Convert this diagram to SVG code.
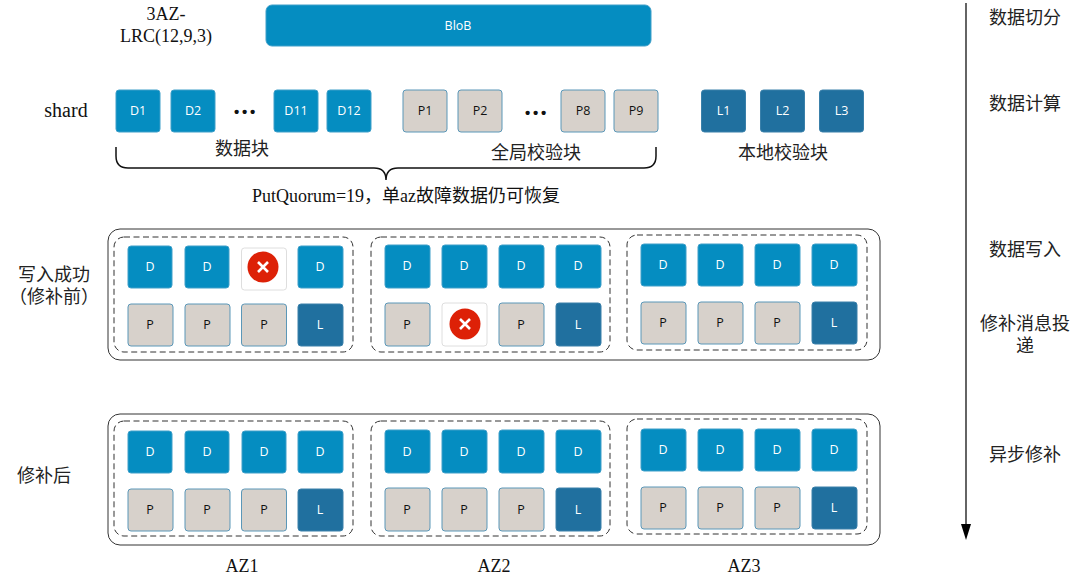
<svg xmlns="http://www.w3.org/2000/svg" xmlns:xlink="http://www.w3.org/1999/xlink" width="1080" height="585" viewBox="0 0 1080 585">
<style>
text{text-anchor:middle}
.t{font-family:"Open Sans","Noto Sans",sans-serif;font-size:12.5px}
.w{fill:#fff}.k{fill:#111}
.d{fill:#058dc1;stroke:#3f9fc9;stroke-width:1}
.p{fill:#d7d1cb;stroke:#5b97b8;stroke-width:1}
.l{fill:#20709f;stroke:#3a80aa;stroke-width:1}
.x{fill:#fff;stroke:#dedede;stroke-width:1}
.lab{font-family:"Liberation Serif","Noto Sans CJK SC",serif;font-size:18px;fill:#111}
.cn{font-family:"Noto Sans CJK SC",sans-serif;font-size:18px;fill:#222}
.outer{fill:none;stroke:#333;stroke-width:1}
.dash{fill:none;stroke:#333;stroke-width:1;stroke-dasharray:6 3.5}
.line{fill:none;stroke:#111;stroke-width:1.5}
.dot{fill:#111}
</style>
<defs>
<g id="xm"><circle cx="0" cy="0" r="15.5" fill="#dd2107"/><path d="M-5 -5L5 5M5 -5L-5 5" stroke="#fff" stroke-width="2.6" fill="none"/></g>
</defs>

<g id="connectors">
<line class="line" x1="966" y1="3" x2="966" y2="525" style="stroke-width:1.3"/>
<path d="M961 524H971L966 540Z" fill="#000"/>
<path class="line" d="M116 147V156Q116 168 128 168H374Q386 168 386 180Q386 168 398 168H644Q656 168 656 156V147"/>
</g>

<g id="labels">
<text class="lab" x="166" y="20">3AZ-</text>
<text class="lab" x="166" y="42">LRC(12,9,3)</text>
<text class="lab" x="66" y="117" style="font-size:20px">shard</text>
<text class="cn" x="242" y="155">数据块</text>
<text class="cn" x="536" y="159">全局校验块</text>
<text class="cn" x="783" y="159">本地校验块</text>
<text class="lab" x="406" y="202">PutQuorum=19，单az故障数据仍可恢复</text>
<text class="cn" x="54" y="281">写入成功</text>
<text class="cn" x="54" y="303">（修补前）</text>
<text class="cn" x="44" y="482">修补后</text>
<text class="lab" x="242" y="572">AZ1</text>
<text class="lab" x="494" y="572">AZ2</text>
<text class="lab" x="744" y="572">AZ3</text>
<text class="cn" x="1025" y="24">数据切分</text>
<text class="cn" x="1025" y="110">数据计算</text>
<text class="cn" x="1025" y="256">数据写入</text>
<text class="cn" x="1025" y="330">修补消息投</text>
<text class="cn" x="1025" y="352">递</text>
<text class="cn" x="1025" y="461">异步修补</text>
<text x="246" y="117" font-family="Liberation Sans,sans-serif" font-size="15" font-weight="bold" fill="#111" letter-spacing="2.800">•••</text>
<text x="537" y="118" font-family="Liberation Sans,sans-serif" font-size="15" font-weight="bold" fill="#111" letter-spacing="2.800">•••</text>
</g>

<g id="blob"><rect class="d" x="266" y="5" width="385" height="41" rx="6"/><text class="t w" x="458" y="30">BloB</text></g>

<g id="shards">
<g id="D1"><rect class="d" x="116" y="90" width="44" height="42" rx="3"/><text class="t w" x="138" y="115">D1</text></g>
<g id="D2"><rect class="d" x="171" y="90" width="44" height="42" rx="3"/><text class="t w" x="193" y="115">D2</text></g>
<g id="D11"><rect class="d" x="274" y="90" width="44" height="42" rx="3"/><text class="t w" x="296" y="115">D11</text></g>
<g id="D12"><rect class="d" x="327" y="90" width="44" height="42" rx="3"/><text class="t w" x="349" y="115">D12</text></g>
<g id="P1"><rect class="p" x="403" y="90" width="44" height="42" rx="3"/><text class="t k" x="425" y="115">P1</text></g>
<g id="P2"><rect class="p" x="458" y="90" width="44" height="42" rx="3"/><text class="t k" x="480" y="115">P2</text></g>
<g id="P8"><rect class="p" x="561" y="90" width="44" height="42" rx="3"/><text class="t k" x="583" y="115">P8</text></g>
<g id="P9"><rect class="p" x="614" y="90" width="44" height="42" rx="3"/><text class="t k" x="636" y="115">P9</text></g>
<g id="L1"><rect class="l" x="701.500" y="90" width="44" height="42" rx="3"/><text class="t w" x="723.500" y="115">L1</text></g>
<g id="L2"><rect class="l" x="760.500" y="90" width="44" height="42" rx="3"/><text class="t w" x="782.500" y="115">L2</text></g>
<g id="L3"><rect class="l" x="819.500" y="90" width="44" height="42" rx="3"/><text class="t w" x="841.500" y="115">L3</text></g>
</g>

<g id="before">
<rect class="outer" x="108" y="229" width="772" height="131" rx="12"/>
<rect class="dash" x="114" y="237" width="239" height="115" rx="10"/>
<rect class="dash" x="371" y="237" width="239" height="115" rx="10"/>
<rect class="dash" x="627" y="235" width="240" height="115" rx="10"/>
<g id="b1">
<rect class="d" x="128" y="246" width="44" height="42" rx="3"/><text class="t w" x="150" y="271">D</text>
<rect class="d" x="185" y="246" width="44" height="42" rx="3"/><text class="t w" x="207" y="271">D</text>
<rect class="x" x="241.500" y="248" width="45" height="42" rx="3"/><use xlink:href="#xm" href="#xm" x="263" y="267"/>
<rect class="d" x="298" y="246" width="45" height="42" rx="3"/><text class="t w" x="320" y="271">D</text>
<rect class="p" x="128" y="304" width="45" height="42" rx="3"/><text class="t k" x="150" y="329">P</text>
<rect class="p" x="185" y="304" width="45" height="42" rx="3"/><text class="t k" x="207" y="329">P</text>
<rect class="p" x="241.500" y="304" width="45" height="42" rx="3"/><text class="t k" x="264" y="329">P</text>
<rect class="l" x="298" y="304" width="45" height="42" rx="3"/><text class="t w" x="320" y="329">L</text>
</g>
<g id="b2">
<rect class="d" x="385" y="245" width="45" height="43" rx="3"/><text class="t w" x="407" y="270">D</text>
<rect class="d" x="442" y="245" width="45" height="43" rx="3"/><text class="t w" x="464" y="270">D</text>
<rect class="d" x="499" y="245" width="45" height="43" rx="3"/><text class="t w" x="521" y="270">D</text>
<rect class="d" x="556" y="245" width="45" height="43" rx="3"/><text class="t w" x="578" y="270">D</text>
<rect class="p" x="385" y="303" width="45" height="43" rx="3"/><text class="t k" x="407" y="329">P</text>
<rect class="x" x="442" y="303" width="45" height="43" rx="3"/><use xlink:href="#xm" href="#xm" x="465" y="324"/>
<rect class="p" x="499" y="303" width="45" height="43" rx="3"/><text class="t k" x="521" y="329">P</text>
<rect class="l" x="556" y="303" width="45" height="43" rx="3"/><text class="t w" x="578" y="329">L</text>
</g>
<g id="b3">
<rect class="d" x="641" y="244" width="45" height="42" rx="3"/><text class="t w" x="663" y="269">D</text>
<rect class="d" x="698" y="244" width="45" height="42" rx="3"/><text class="t w" x="720" y="269">D</text>
<rect class="d" x="755" y="244" width="45" height="42" rx="3"/><text class="t w" x="777" y="269">D</text>
<rect class="d" x="812" y="244" width="45" height="42" rx="3"/><text class="t w" x="834" y="269">D</text>
<rect class="p" x="641" y="302" width="45" height="42" rx="3"/><text class="t k" x="663" y="327">P</text>
<rect class="p" x="698" y="302" width="45" height="42" rx="3"/><text class="t k" x="720" y="327">P</text>
<rect class="p" x="755" y="302" width="45" height="42" rx="3"/><text class="t k" x="777" y="327">P</text>
<rect class="l" x="812" y="302" width="45" height="42" rx="3"/><text class="t w" x="834" y="327">L</text>
</g>
</g>

<g id="after">
<rect class="outer" x="108" y="414" width="772" height="131" rx="12"/>
<rect class="dash" x="114" y="421" width="239" height="115" rx="10"/>
<rect class="dash" x="371" y="421" width="239" height="115" rx="10"/>
<rect class="dash" x="627" y="419" width="240" height="115" rx="10"/>
<g id="a1">
<rect class="d" x="128" y="431" width="44" height="42" rx="3"/><text class="t w" x="150" y="456">D</text>
<rect class="d" x="185" y="431" width="44" height="42" rx="3"/><text class="t w" x="207" y="456">D</text>
<rect class="d" x="242" y="431" width="44" height="42" rx="3"/><text class="t w" x="264" y="456">D</text>
<rect class="d" x="298" y="431" width="45" height="42" rx="3"/><text class="t w" x="320" y="456">D</text>
<rect class="p" x="128" y="489" width="45" height="42" rx="3"/><text class="t k" x="150" y="514">P</text>
<rect class="p" x="185" y="489" width="45" height="42" rx="3"/><text class="t k" x="207" y="514">P</text>
<rect class="p" x="241.500" y="489" width="45" height="42" rx="3"/><text class="t k" x="264" y="514">P</text>
<rect class="l" x="298" y="489" width="45" height="42" rx="3"/><text class="t w" x="320" y="514">L</text>
</g>
<g id="a2">
<rect class="d" x="385" y="430" width="45" height="43" rx="3"/><text class="t w" x="407" y="456">D</text>
<rect class="d" x="442" y="430" width="45" height="43" rx="3"/><text class="t w" x="464" y="456">D</text>
<rect class="d" x="499" y="430" width="45" height="43" rx="3"/><text class="t w" x="521" y="456">D</text>
<rect class="d" x="556" y="430" width="45" height="43" rx="3"/><text class="t w" x="578" y="456">D</text>
<rect class="p" x="385" y="488" width="45" height="43" rx="3"/><text class="t k" x="407" y="514">P</text>
<rect class="p" x="442" y="488" width="45" height="43" rx="3"/><text class="t k" x="464" y="514">P</text>
<rect class="p" x="499" y="488" width="45" height="43" rx="3"/><text class="t k" x="521" y="514">P</text>
<rect class="l" x="556" y="488" width="45" height="43" rx="3"/><text class="t w" x="578" y="514">L</text>
</g>
<g id="a3">
<rect class="d" x="641" y="429" width="45" height="42" rx="3"/><text class="t w" x="663" y="454">D</text>
<rect class="d" x="698" y="429" width="45" height="42" rx="3"/><text class="t w" x="720" y="454">D</text>
<rect class="d" x="755" y="429" width="45" height="42" rx="3"/><text class="t w" x="777" y="454">D</text>
<rect class="d" x="812" y="429" width="45" height="42" rx="3"/><text class="t w" x="834" y="454">D</text>
<rect class="p" x="641" y="487" width="45" height="42" rx="3"/><text class="t k" x="663" y="512">P</text>
<rect class="p" x="698" y="487" width="45" height="42" rx="3"/><text class="t k" x="720" y="512">P</text>
<rect class="p" x="755" y="487" width="45" height="42" rx="3"/><text class="t k" x="777" y="512">P</text>
<rect class="l" x="812" y="487" width="45" height="42" rx="3"/><text class="t w" x="834" y="512">L</text>
</g>
</g>
</svg>
